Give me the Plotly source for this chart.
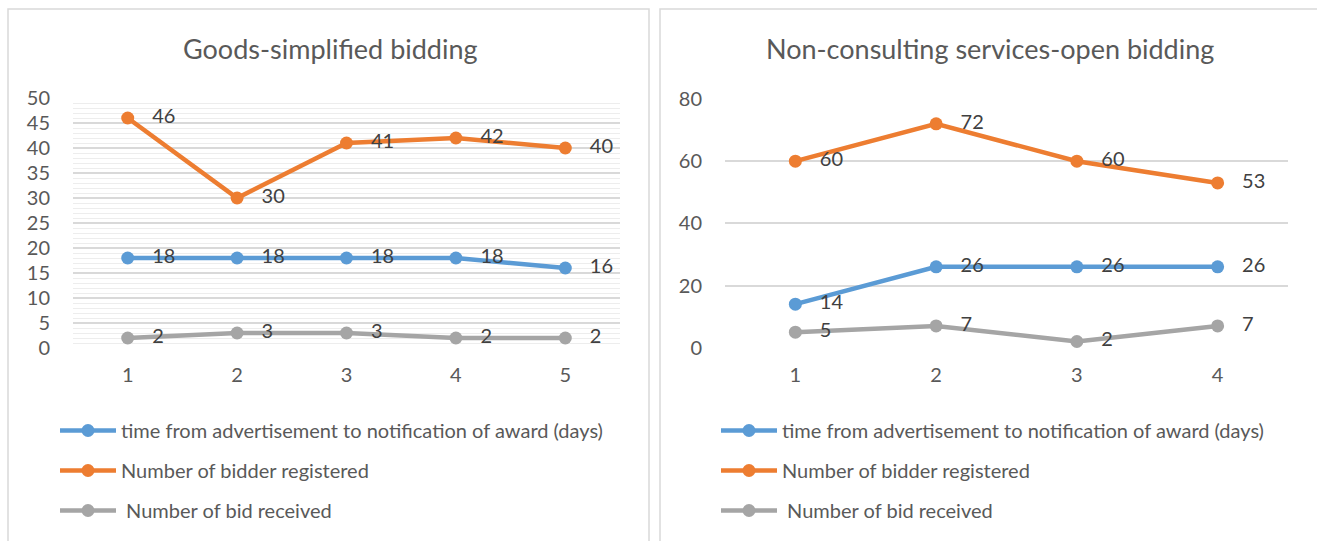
import plotly.graph_objects as go

W, H = 1317, 541

series_names = [
    "time from advertisement to notification of award (days)",
    "Number of bidder registered",
    " Number of bid received",
]
colors = ["#5B9BD5", "#ED7D31", "#A5A5A5"]

left_title = "Goods-simplified bidding"
left_x = [1, 2, 3, 4, 5]
left_time = [18, 18, 18, 18, 16]
left_registered = [46, 30, 41, 42, 40]
left_received = [2, 3, 3, 2, 2]

right_title = "Non-consulting services-open bidding"
right_x = [1, 2, 3, 4]
right_time = [14, 26, 26, 26]
right_registered = [60, 72, 60, 53]
right_received = [5, 7, 2, 7]

FONT = "Lato"
TICK_COL = "#595959"
LABEL_COL = "#404040"

def px_x(p):
    return p / W

def px_y(p):
    return 1 - p / H

fig = go.Figure()

def add_series(xs, ys, name, color, xa, ya, legend):
    fig.add_trace(go.Scatter(
        x=xs, y=ys, name=name, mode="lines+markers+text",
        line=dict(color=color, width=4.5),
        marker=dict(color=color, size=13),
        text=[f"   {v}" for v in ys], textposition="middle right",
        textfont=dict(family=FONT, size=20, color=LABEL_COL),
        xaxis=xa, yaxis=ya, legend=legend, legendgroup=legend + name,
        cliponaxis=False,
    ))

for vals, nm, c in zip([left_time, left_registered, left_received], series_names, colors):
    add_series(left_x, vals, nm, c, "x", "y", "legend")
for vals, nm, c in zip([right_time, right_registered, right_received], series_names, colors):
    add_series(right_x, vals, nm, c, "x2", "y2", "legend2")

axis_common = dict(showline=False, zeroline=False, ticks="",
                   tickfont=dict(family=FONT, size=20, color=TICK_COL))

fig.update_layout(
    width=W, height=H,
    margin=dict(l=0, r=0, t=0, b=0, autoexpand=False),
    paper_bgcolor="white", plot_bgcolor="white",
    xaxis=dict(domain=[px_x(73), px_x(620)], range=[0.5, 5.5], tickvals=left_x,
               showgrid=False, anchor="y", ticklabelstandoff=13, **axis_common),
    yaxis=dict(domain=[px_y(348), px_y(98)], range=[0, 50], dtick=5,
               showgrid=True, gridcolor="#D9D9D9", gridwidth=1.5,
               minor=dict(dtick=1, showgrid=True, gridcolor="#EDEDED", gridwidth=1),
               anchor="x", ticklabelstandoff=22, **axis_common),
    xaxis2=dict(domain=[px_x(725), px_x(1288)], range=[0.5, 4.5], tickvals=right_x,
                showgrid=False, anchor="y2", ticklabelstandoff=13, **axis_common),
    yaxis2=dict(domain=[px_y(347.7), px_y(99)], range=[0, 80], dtick=20,
                showgrid=True, gridcolor="#D9D9D9", gridwidth=1.5,
                anchor="x2", ticklabelstandoff=22, **axis_common),
    legend=dict(x=px_x(55), y=px_y(411), xanchor="left", yanchor="top",
                font=dict(family=FONT, size=20, color=TICK_COL),
                tracegroupgap=11, itemwidth=56, bgcolor="rgba(0,0,0,0)"),
    legend2=dict(x=px_x(716), y=px_y(411), xanchor="left", yanchor="top",
                 font=dict(family=FONT, size=20, color=TICK_COL),
                 tracegroupgap=11, itemwidth=56, bgcolor="rgba(0,0,0,0)"),
    showlegend=True,
)

# panel borders
for x0, x1 in [(8, 649), (660, 1330)]:
    fig.add_shape(type="rect", xref="paper", yref="paper",
                  x0=px_x(x0), x1=px_x(x1), y0=px_y(560), y1=px_y(9),
                  line=dict(color="#D9D9D9", width=1.5), fillcolor="rgba(0,0,0,0)",
                  layer="below")

fig.add_annotation(text=left_title, xref="paper", yref="paper", x=px_x(330), y=px_y(48),
                   xanchor="center", yanchor="middle",
                   showarrow=False, font=dict(family=FONT, size=27, color=TICK_COL))
fig.add_annotation(text=right_title, xref="paper", yref="paper", x=px_x(990), y=px_y(48),
                   xanchor="center", yanchor="middle",
                   showarrow=False, font=dict(family=FONT, size=27, color=TICK_COL))

fig.write_html("out.html", config={"displayModeBar": False},
               post_script="document.body.style.margin='0px';")
